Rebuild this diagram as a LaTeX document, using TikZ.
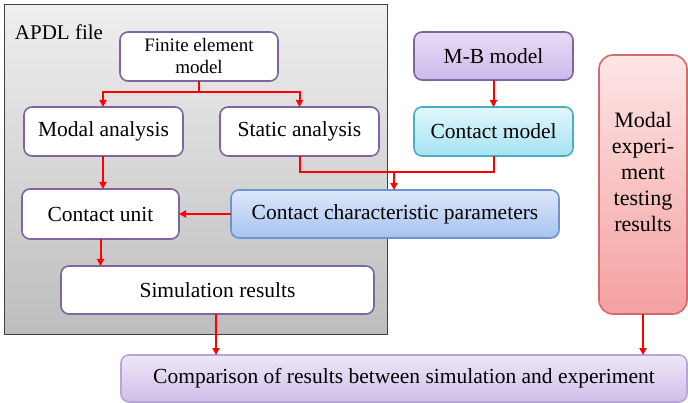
\documentclass[tikz,border=0pt]{standalone}
\usepackage{fontspec}
\setmainfont{Liberation Serif}
\usetikzlibrary{arrows.meta,calc}

\definecolor{boxpurple}{HTML}{8064A2}
\definecolor{arrred}{HTML}{FF0000}
\definecolor{apdlborder}{HTML}{404040}
\definecolor{apdltop}{HTML}{EFEFEF}
\definecolor{apdlbot}{HTML}{BDBDBD}
\definecolor{mbtop}{HTML}{E6DCF5}
\definecolor{mbbot}{HTML}{CDB9EA}
\definecolor{cmline}{HTML}{4BACC6}
\definecolor{cmtop}{HTML}{E2F7FC}
\definecolor{cmbot}{HTML}{A4E2F1}
\definecolor{ccpline}{HTML}{6E93CE}
\definecolor{ccptop}{HTML}{DDE8FB}
\definecolor{ccpbot}{HTML}{A6C2EE}
\definecolor{expline}{HTML}{D26B6B}
\definecolor{exptop}{HTML}{FDE6E6}
\definecolor{expbot}{HTML}{F4A0A0}
\definecolor{cmpline}{HTML}{B8A5D8}
\definecolor{cmptop}{HTML}{EEE7F7}
\definecolor{cmpbot}{HTML}{CFBFE9}

\tikzset{
  flowbox/.style={draw=boxpurple, line width=1.6pt, rounded corners=8pt,
    inner sep=0pt, outer sep=0pt, align=center,
    font=\fontsize{21.5}{25}\selectfont},
  whitebox/.style={flowbox, fill=white},
  mbbox/.style={flowbox, top color=mbtop, bottom color=mbbot},
  cmbox/.style={flowbox, draw=cmline, top color=cmtop, bottom color=cmbot},
  ccpbox/.style={flowbox, draw=ccpline, top color=ccptop, bottom color=ccpbot},
  expbox/.style={flowbox, draw=expline, rounded corners=14pt, top color=exptop, bottom color=expbot},
  cmpbox/.style={flowbox, draw=cmpline, top color=cmptop, bottom color=cmpbot},
  arr/.style={draw=arrred, line width=2pt, -{Triangle[length=7pt,width=7pt]}},
  link/.style={draw=arrred, line width=2pt},
}

\begin{document}
\begin{tikzpicture}[x=1pt, y=-1pt]
\useasboundingbox (0,0) rectangle (688,403);

% APDL container
\node[draw=apdlborder, line width=1pt, top color=apdltop, bottom color=apdlbot,
      minimum width=383pt, minimum height=329pt, inner sep=0pt, outer sep=0pt]
      (apdl) at (195.5,169.5) {};
\node[font=\fontsize{21}{25}\selectfont, inner sep=0pt] (apdllabel) at (59,32) {APDL file};

% boxes inside the container
\node[whitebox, minimum width=158pt, minimum height=49pt,
      font=\fontsize{19}{22}\selectfont] (fem) at (199,56.5) {Finite element\\model};
\node[whitebox, minimum width=159pt, minimum height=49pt] (modal) at (103.5,131.5) {Modal analysis};
\node[whitebox, minimum width=159pt, minimum height=49pt] (static) at (299.5,131.5) {Static analysis};
\node[whitebox, minimum width=157pt, minimum height=50pt] (cu) at (100.5,214) {Contact unit};
\node[whitebox, minimum width=313pt, minimum height=48pt] (sim) at (217.5,290) {Simulation results};

% boxes on the right
\node[mbbox, minimum width=159pt, minimum height=48pt] (mb) at (493.5,56) {M-B model};
\node[cmbox, minimum width=159pt, minimum height=49pt] (cm) at (493.5,131.5) {Contact model};
\node[ccpbox, minimum width=328pt, minimum height=48pt] (ccp) at (395,214) {Contact characteristic parameters};
\node[expbox, minimum width=88pt, minimum height=259pt] (mexp) at (643,184.5) {};
\node[align=center, inner sep=0pt, font=\fontsize{22}{26}\selectfont]
      (mexptext) at (643,172) {Modal\\experi-\\ment\\testing\\results};
\node[cmpbox, minimum width=566pt, minimum height=47pt] (cmp) at (404,378.5)
      {Comparison of results between simulation and experiment};

% junctions
\coordinate (j1) at (199,92);
\coordinate (j2) at (394,172);

% connectors
\draw[link] (fem.south) -- (j1);
\draw[arr] (j1) -| ($(modal.north)+(-0.5,0)$);
\draw[arr] (j1) -| (static.north);
\draw[arr] ($(modal.south)+(-0.5,0)$) -- ($(modal.south |- cu.north)+(-0.5,0)$);
\draw[link] (static.south) |- (j2);
\draw[link] (cm.south) |- (j2);
\draw[arr] (j2) -- (j2 |- ccp.north);
\draw[arr] (mb.south) -- (cm.north);
\draw[arr] (ccp.west) -- (cu.east);
\draw[arr] (cu.south) -- (cu.south |- sim.north);
\draw[arr] ($(sim.south)+(-1.5,0)$) -- ($(sim.south |- cmp.north)+(-1.5,0)$);
\draw[arr] (mexp.south) -- (mexp.south |- cmp.north);
\end{tikzpicture}
\end{document}
